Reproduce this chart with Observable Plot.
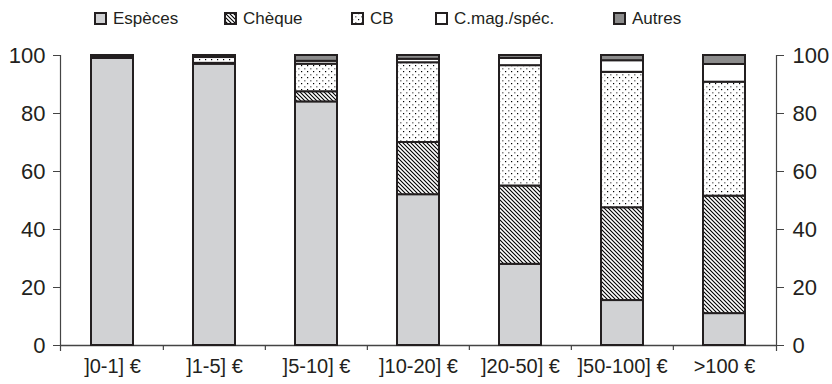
<!DOCTYPE html>
<html><head><meta charset="utf-8">
<script src="https://cdn.jsdelivr.net/npm/d3@7"></script>
<script src="https://cdn.jsdelivr.net/npm/@observablehq/plot@0.6"></script>
<style>
body{margin:0;background:#fff;font-family:"Liberation Sans",Arial,sans-serif;color:#231f20;}
#legend{position:relative;height:40px;width:832px;font-size:17px;}
.item{position:absolute;top:10px;display:flex;align-items:center;gap:6px;height:17px;line-height:17px;white-space:nowrap}
.item svg{display:block}
#chart svg{display:block}
</style></head><body>
<svg width="0" height="0" style="position:absolute">
<defs>
<pattern id="hatch" width="4" height="4" patternUnits="userSpaceOnUse">
<rect width="4" height="4" fill="#fff"/>
<path d="M-1,-1L5,5M-1,3L1,5M3,-1L5,1" stroke="#000" stroke-width="1.1"/>
</pattern>
<pattern id="dots" width="6" height="6" patternUnits="userSpaceOnUse">
<rect width="6" height="6" fill="#fff"/>
<rect x="1" y="1" width="1.2" height="1.2" fill="#000"/>
<rect x="4" y="4" width="1.5" height="1.5" fill="#8a8a8a"/>
</pattern>
</defs>
</svg>
<div id="legend"></div>
<div id="chart"></div>
<script>
const categories = ["]0-1] €", "]1-5] €", "]5-10] €", "]10-20] €", "]20-50] €", "]50-100] €", ">100 €"];
const modes = ["Espèces", "Chèque", "CB", "C.mag./spéc.", "Autres"];
const especes = [99, 97, 84, 52, 28, 15.5, 11];
const cheque  = [0.3, 0.3, 3.5, 18, 27, 32, 40.5];
const cb      = [0.3, 2, 9.5, 27.5, 41.5, 46.7, 39.3];
const cmag    = [0.2, 0.5, 1, 1.2, 2.5, 4, 6.1];
const autres  = [0.2, 0.2, 2, 1.3, 1, 1.8, 3.1];
const yTicks = [0, 20, 40, 60, 80, 100];

const fills = ["#d1d2d4", "url(#hatch)", "url(#dots)", "#ffffff", "#8c8c8c"];
const ink = "#231f20";
const series = [especes, cheque, cb, cmag, autres];
const rows = [];
categories.forEach((c, i) => modes.forEach((m, j) => rows.push({cat: c, mode: m, value: series[j][i]})));

// legend
const legendLeft = [94, 224, 351, 435, 613];
const legend = document.getElementById("legend");
modes.forEach((m, j) => {
  const it = document.createElement("div");
  it.className = "item";
  it.style.left = legendLeft[j] + "px";
  it.innerHTML = `<svg width="13" height="13"><rect x="1" y="1" width="11" height="11" fill="${fills[j]}" stroke="${ink}" stroke-width="2"/></svg><span>${m}</span>`;
  legend.appendChild(it);
});

const W = 832, H = 344, ml = 60, mr = 56, mt = 15, mb = 39;
const step = (W - ml - mr) / categories.length;

const chart = Plot.plot({
  width: W, height: H,
  marginLeft: ml, marginRight: mr, marginTop: mt, marginBottom: mb,
  style: {fontFamily: "'Liberation Sans', Arial, sans-serif", color: ink, background: "#fff", overflow: "visible"},
  x: {domain: categories, paddingInner: 0.59, paddingOuter: 0.295, axis: null},
  y: {domain: [0, 100], axis: null},
  color: {domain: modes, range: fills, type: "ordinal"},
  marks: [
    Plot.ruleY([0], {stroke: "#444", strokeWidth: 1.5}),
    Plot.frame({anchor: "left", stroke: "#444", strokeWidth: 1.2, insetBottom: -5}),
    Plot.frame({anchor: "right", stroke: "#444", strokeWidth: 1.2, insetBottom: -5}),
    Plot.ruleX(categories.slice(1), {x: d => d, y1: 0, y2: 0, insetBottom: -5, dx: -step / 2, stroke: "#444", strokeWidth: 1.2}),
    Plot.barY(rows, {x: "cat", y: "value", fill: "mode", stroke: ink, strokeWidth: 2}),
    Plot.axisY({anchor: "left", ticks: yTicks, tickSize: 7, tickPadding: 8, fontSize: 22, label: null, stroke: "#444"}),
    Plot.axisY({anchor: "right", ticks: yTicks, tickSize: 7, tickPadding: 9, fontSize: 22, label: null, stroke: "#444"}),
    Plot.axisX({tickSize: 0, tickPadding: 13, fontSize: 20, label: null})
  ]
});
document.getElementById("chart").appendChild(chart);
</script>
</body></html>
